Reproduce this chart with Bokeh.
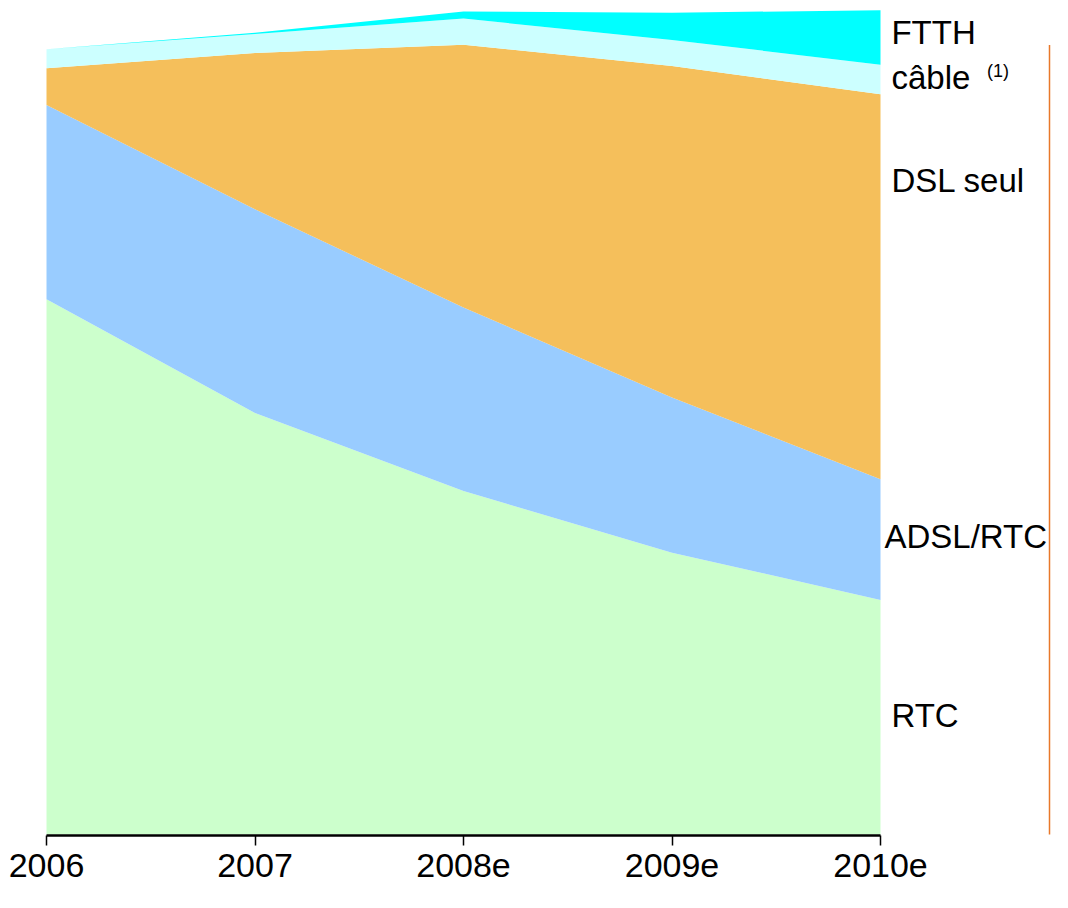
from bokeh.plotting import figure
from bokeh.models import ColumnDataSource, FixedTicker, Label, Range1d
from bokeh.embed import file_html
from bokeh.resources import INLINE

# ---- data (millions of lines) ----
years = ["2006", "2007", "2008e", "2009e", "2010e"]
rtc = [22.6, 17.8, 14.5, 11.9, 9.9]
adsl_rtc = [8.2, 8.6, 7.75, 6.55, 5.1]
dsl_seul = [1.55, 6.6, 11.1, 14.0, 16.25]
cable = [0.8, 0.8, 1.1, 1.1, 1.25]
ftth = [0.0, 0.05, 0.3, 1.15, 2.3]

series_names = ["RTC", "ADSL/RTC", "DSL seul", "câble", "FTTH"]
colors = ["#CCFFCC", "#99CCFF", "#F5BF5B", "#CCFFFF", "#00FFFF"]

xs = list(range(len(years)))
source = ColumnDataSource(dict(x=xs, rtc=rtc, adsl_rtc=adsl_rtc, dsl_seul=dsl_seul,
                               cable=cable, ftth=ftth))

W, H = 1052, 892
LEFT = 46          # px of first category inside figure
PX_PER_X = 208.5   # px per category step
BOTTOM = 835       # frame bottom (figure px)
PX_PER_Y = 24.0 * (834 - 9) / (845 - 9)

x_start = -LEFT / PX_PER_X
x_end = (W - LEFT) / PX_PER_X
y_start = -1 / PX_PER_Y
y_end = y_start + BOTTOM / PX_PER_Y

p = figure(width=W, height=H, output_backend="svg", toolbar_location=None,
           x_range=Range1d(x_start, x_end), y_range=Range1d(y_start, y_end),
           y_axis_location=None, min_border_left=0, min_border_right=0,
           min_border_top=0, min_border_bottom=H - BOTTOM)
p.outline_line_color = None
p.xgrid.visible = False
p.ygrid.visible = False
p.background_fill_color = "white"

p.varea_stack(stackers=["rtc", "adsl_rtc", "dsl_seul", "cable", "ftth"], x="x",
              color=colors, source=source)

ax = p.xaxis[0]
ax.bounds = (0, len(years) - 1)
ax.ticker = FixedTicker(ticks=xs)
ax.major_label_overrides = {i: y for i, y in enumerate(years)}
ax.axis_line_color = "black"
ax.axis_line_width = 2.5
ax.major_tick_line_color = "black"
ax.major_tick_line_width = 1.5
ax.major_tick_in = 0
ax.major_tick_out = 10
ax.minor_tick_line_color = None
ax.major_label_standoff = 8
ax.major_label_text_font = "Liberation Sans"
ax.major_label_text_font_size = "34px"
ax.major_label_text_color = "black"


# reference-picture pixel -> data units
def dx(ref_x):
    return (ref_x - 48) / 209.5


def dy(ref_y):
    return (845 - ref_y) / 24.0


labels = [
    ("FTTH", 897, 32, "33px"),
    ("câble", 897, 78, "33px"),
    ("(1)", 993, 71, "18px"),
    ("DSL seul", 897, 182, "33px"),
    ("ADSL/RTC", 890, 543, "33px"),
    ("RTC", 897, 724, "33px"),
]
for txt, px_, py_, fs in labels:
    p.add_layout(Label(x=dx(px_), y=dy(py_), text=txt, text_font="Liberation Sans",
                       text_font_size=fs, text_color="black",
                       text_align="left", text_baseline="alphabetic"))

# thin orange rule at the right edge
xr = (1049 - LEFT) / PX_PER_X
p.segment(x0=[xr], y0=[0], x1=[xr], y1=[dy(45)],
          line_color="#E8782A", line_width=1.5)

open("out.html", "w").write(file_html(p, INLINE))
